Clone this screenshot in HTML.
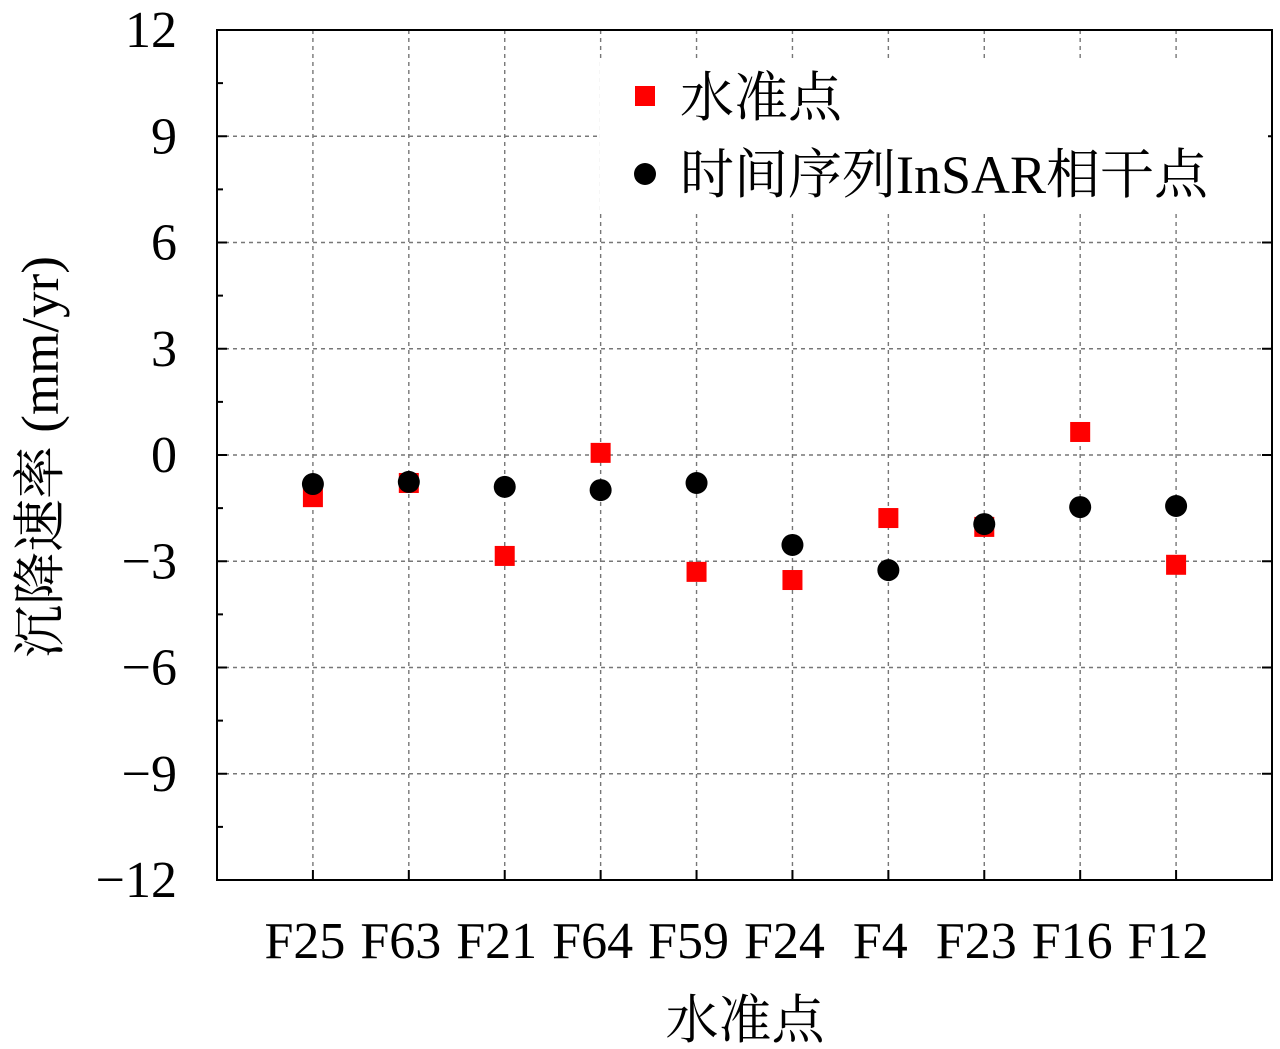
<!DOCTYPE html>
<html><head><meta charset="utf-8"><style>
html,body{margin:0;padding:0;background:#fff}
svg{display:block}
text{font-family:"Liberation Serif","Noto Serif CJK SC",serif;fill:#000}
</style></head><body>
<svg id="chart" width="1280" height="1049" viewBox="0 0 1280 1049" xmlns="http://www.w3.org/2000/svg">
<g id="grid"></g>
<rect x="217" y="30" width="1055" height="850" fill="none" stroke="#000" stroke-width="2"/>
<g id="ticks"></g>
<g id="marks"></g>
<g>
<rect x="600" y="62" width="668" height="148" fill="#fff"/>
<g>
<rect x="635" y="86" width="20" height="20" fill="#ff0000"/>
<text x="680" y="116" font-size="54">水准点</text>
</g>
<g>
<circle cx="645" cy="174" r="11" fill="#000"/>
<text x="680" y="193" font-size="54">时间序列InSAR相干点</text>
</g>
</g>
<text x="745" y="1038" font-size="53" text-anchor="middle">水准点</text>
<text transform="translate(58,457) rotate(-90)" font-size="53" text-anchor="middle">沉降速率 (mm/yr)</text>
</svg>
<script>
const categories = ["F25","F63","F21","F64","F59","F24","F4","F23","F16","F12"];
const levelingValues = [-1.19,-0.79,-2.85,0.06,-3.3,-3.53,-1.78,-2.03,0.65,-3.1];
const insarValues = [-0.82,-0.76,-0.9,-0.99,-0.79,-2.54,-3.25,-1.95,-1.47,-1.44];
const yTickLabels = ["12","9","6","3","0","\u22123","\u22126","\u22129","\u221212"];
const yTickValues = [12,9,6,3,0,-3,-6,-9,-12];

const NS="http://www.w3.org/2000/svg";
const L=217,R=1272,T=30,B=880,yMin=-12,yMax=12;
function yScale(v){return B-(v-yMin)/(yMax-yMin)*(B-T);}
function xScale(i){return L+(i+1)*(R-L)/(categories.length+1);}
function mk(tag,attrs,parent){const e=document.createElementNS(NS,tag);for(const k in attrs)e.setAttribute(k,attrs[k]);parent.appendChild(e);return e;}
const grid=document.getElementById('grid'),ticks=document.getElementById('ticks'),marks=document.getElementById('marks'),svg=document.getElementById('chart');
yTickValues.forEach((v,i)=>{
  const y=yScale(v);
  if(v!==yMin&&v!==yMax){
    const g=mk('line',{x1:L,x2:R,y1:y,y2:y,stroke:'#777','stroke-width':1.4,'stroke-dasharray':'4,4'},grid);
    
    
  }
  const t=mk('line',{x1:L,x2:L+10,y1:y,y2:y,stroke:'#000','stroke-width':2},ticks);
  
  
  const t2=mk('line',{x1:R-10,x2:R,y1:y,y2:y,stroke:'#000','stroke-width':2},ticks);
  
  
  if(v!==yMin){
    const m=mk('line',{x1:L,x2:L+6,y1:yScale(v-1.5),y2:yScale(v-1.5),stroke:'#000','stroke-width':2},ticks);
    
    
  }
  const lb=mk('text',{x:177,y:y+17,'font-size':52,'text-anchor':'end'},svg);
  lb.textContent=yTickLabels[i];
  
  
});
categories.forEach((c,i)=>{
  const x=xScale(i);
  const g=mk('line',{x1:x,x2:x,y1:T,y2:B,stroke:'#777','stroke-width':1.4,'stroke-dasharray':'4,4'},grid);
  
  
  const t=mk('line',{x1:x,x2:x,y1:B-10,y2:B,stroke:'#000','stroke-width':2},ticks);
  
  
  const lb=mk('text',{x:x-8,y:958,'font-size':52,'text-anchor':'middle'},svg);
  lb.textContent=c;
  
  
  const s=mk('rect',{x:x-10,y:yScale(levelingValues[i])-10,width:20,height:20,fill:'#ff0000'},marks);
  
  
  const ci=mk('circle',{cx:x,cy:yScale(insarValues[i]),r:11,fill:'#000'},marks);
  
  
});
</script>
</body></html>
